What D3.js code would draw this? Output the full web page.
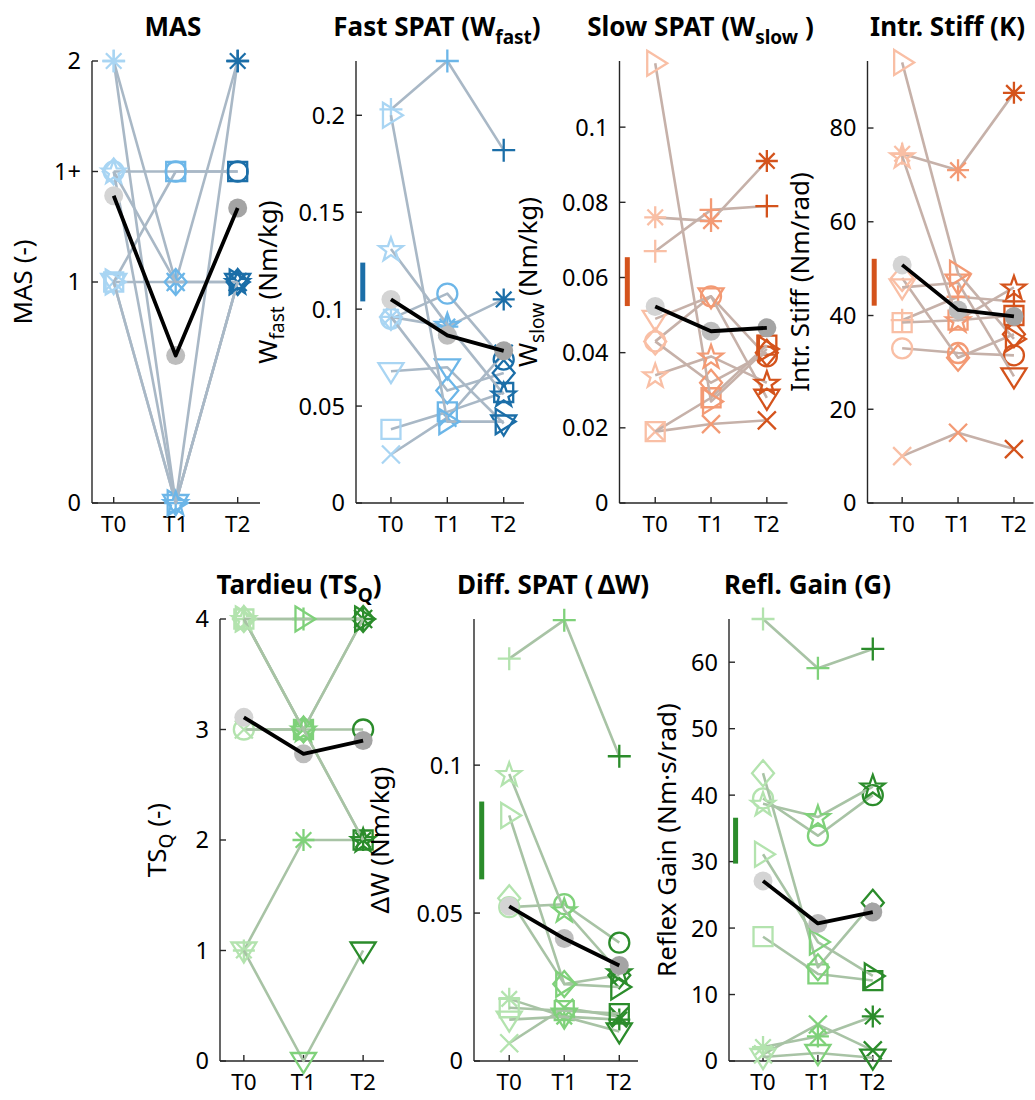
<!DOCTYPE html>
<html><head><meta charset="utf-8">
<script src="https://cdn.jsdelivr.net/npm/d3@7"></script>
<style>
body{margin:0;background:#fff}
svg{display:block}
text{font-family:"Noto Sans","Open Sans",sans-serif;fill:#000}
</style>
</head><body>
<svg id="chart" width="1035" height="1100"></svg>
<script>
// ---------------- DATA ----------------
const timeLabels = ["T0", "T1", "T2"];
const timePoints = [1, 2, 3];
// subject marker symbols (one per subject)
const subjectMarkers = ["o", "+", "*", "x", "s", "d", "v", ">", "p"];

const masTicks = [0, 1, 1.5, 2];
const masTickLabels = ["0", "1", "1+", "2"];
const masValues = [[1.5,1.5,1.5],[2,0,2],[2,1,2],[1,1,1],[1,1.5,1.5],[1.5,1,1],[1,0,1],[1,0,1],[1.5,0,1]];
const masMean = [1.39, 0.667, 1.335];

const wFastTicks = [0, 0.05, 0.1, 0.15, 0.2];
const wFastValues = [[0.095,0.108,0.074],[0.203,0.228,0.182],[0.096,0.091,0.105],[0.025,0.044,0.077],[0.038,0.047,0.057],[0.096,0.058,0.067],[0.068,0.070,0.041],[0.200,0.042,0.042],[0.131,0.092,0.056]];
const wFastMean = [0.105, 0.0865, 0.0785];
const wFastBar = [0.104, 0.124];

const wSlowTicks = [0, 0.02, 0.04, 0.06, 0.08, 0.1];
const wSlowValues = [[0.043,0.055,0.039],[0.067,0.078,0.079],[0.076,0.075,0.091],[0.019,0.021,0.022],[0.019,0.028,0.042],[0.043,0.032,0.040],[0.049,0.055,0.028],[0.117,0.027,0.041],[0.034,0.039,0.032]];
const wSlowMean = [0.0523, 0.0457, 0.0466];
const wSlowBar = [0.0524, 0.0654];

const stiffTicks = [0, 20, 40, 60, 80];
const stiffValues = [[33,32,31.5],[39,44,43],[74.5,71,87.5],[10,15,11.5],[38.5,39,40],[48,31,36],[46,47,27],[94,49,35],[74,39,46]];
const stiffMean = [50.8, 41.2, 39.8];
const stiffBar = [42.1, 52.1];

const tsqTicks = [0, 1, 2, 3, 4];
const tsqValues = [[3,3,3],[4,4,4],[1,2,2],[3,3,4],[4,3,2],[4,3,4],[1,0,1],[4,4,4],[4,3,2]];
const tsqMean = [3.11, 2.78, 2.90];

const dWTicks = [0, 0.05, 0.1];
const dWValues = [[0.052,0.053,0.040],[0.136,0.149,0.103],[0.021,0.015,0.014],[0.006,0.018,0.015],[0.018,0.017,0.016],[0.055,0.026,0.029],[0.014,0.015,0.010],[0.083,0.026,0.025],[0.097,0.051,0.030]];
const dWMean = [0.0523, 0.0414, 0.0323];
const dWBar = [0.0614, 0.0877];

const gainTicks = [0, 10, 20, 30, 40, 50, 60];
const gainValues = [[39.5,33.9,40.0],[66.5,59.1,62.0],[2.1,3.7,6.7],[1.0,5.5,1.6],[18.7,13.1,12.1],[43.3,14.1,23.8],[0.6,1.2,0.5],[31.1,17.9,12.8],[38.7,36.7,41.3]];
const gainMean = [27.1, 20.7, 22.4];
const gainBar = [29.7, 36.6];

// ---------------- STYLE ----------------
const palettes = {
  blue:   {t: ["#a9d5f3", "#6cb6e8", "#1b6ea8"], line: "#a9b8c6", bar: "#1b6ea8"},
  orange: {t: ["#f9bfa5", "#f39a74", "#d4531c"], line: "#c6b1a9", bar: "#d4531c"},
  green:  {t: ["#b3e3ae", "#7fd17a", "#2b8c2b"], line: "#a8c3a5", bar: "#2b8c2b"}
};
const meanColors = ["#d4d4d4", "#bdbdbd", "#a4a4a4"];

const svg = d3.select("#chart");
const TOP_Y = 61, H = 442;
const BOT_Y = 619;
const TICK_FS = 23.5, TITLE_FS = 26, TITLE_SUB = 19, LABEL_FS = 26, LABEL_SUB = 19;

const panels = [
  {title:[{t:"MAS"}], ylabel:[{t:"MAS (-)"}], left:92, top:TOP_Y, w:168, domain:[0,2],
   ticks:masTicks, tickLabels:masTickLabels, values:masValues, mean:masMean, bar:null, pal:"blue", labelX:26, xlim:[0.65,3.36]},
  {title:[{t:"Fast SPAT (W"},{t:"fast",sub:true},{t:")"}], ylabel:[{t:"W"},{t:"fast",sub:true},{t:" (Nm/kg)"}], left:356, top:TOP_Y, w:168, domain:[0,0.228],
   ticks:wFastTicks, values:wFastValues, mean:wFastMean, bar:wFastBar, pal:"blue", labelX:271, xlim:[0.38,3.36]},
  {title:[{t:"Slow SPAT (W"},{t:"slow",sub:true},{t:" )"}], ylabel:[{t:"W"},{t:"slow",sub:true},{t:" (Nm/kg)"}], left:619.5, top:TOP_Y, w:168, domain:[0,0.1176],
   ticks:wSlowTicks, values:wSlowValues, mean:wSlowMean, bar:wSlowBar, pal:"orange", labelX:531, xlim:[0.36,3.37]},
  {title:[{t:"Intr. Stiff (K)"}], ylabel:[{t:"Intr. Stiff (Nm/rad)"}], left:867.5, top:TOP_Y, w:166, domain:[0,94.3],
   ticks:stiffTicks, values:stiffValues, mean:stiffMean, bar:stiffBar, pal:"orange", labelX:803, xlim:[0.38,3.35]},
  {title:[{t:"Tardieu (TS"},{t:"Q",sub:true},{t:")"}], ylabel:[{t:"TS"},{t:"Q",sub:true},{t:" (-)"}], left:220, top:BOT_Y, w:164, domain:[0,4],
   ticks:tsqTicks, values:tsqValues, mean:tsqMean, bar:null, pal:"green", labelX:160, xlim:[0.6,3.35]},
  {title:[{t:"Diff. SPAT (\u2009\u0394W)"}], ylabel:[{t:"\u0394W (Nm/kg)"}], left:474, top:BOT_Y, w:164, domain:[0,0.1494],
   ticks:dWTicks, values:dWValues, mean:dWMean, bar:dWBar, pal:"green", labelX:383, xlim:[0.36,3.34]},
  {title:[{t:"Refl. Gain (G)"}], ylabel:[{t:"Reflex Gain (Nm\u00b7s/rad)"}], left:729, top:BOT_Y, w:163, domain:[0,66.5],
   ticks:gainTicks, values:gainValues, mean:gainMean, bar:gainBar, pal:"green", labelX:670, xlim:[0.38,3.35]}
];

function richText(sel, parts, size, subSize) {
  parts.forEach((p, i) => {
    const prevSub = i > 0 && parts[i-1].sub;
    const ts = sel.append("tspan").text(p.t).attr("font-size", p.sub ? subSize : size);
    if (p.sub) ts.attr("dy", size * 0.3);
    else if (prevSub) ts.attr("dy", -size * 0.3);
  });
}

function markerPath(type) {
  const p = d3.path();
  switch (type) {
    case "o": p.moveTo(10,0); p.arc(0,0,10,0,2*Math.PI); break;
    case "+": p.moveTo(-11.5,0); p.lineTo(11.5,0); p.moveTo(0,-11.5); p.lineTo(0,11.5); break;
    case "*": p.moveTo(-11,0); p.lineTo(11,0); p.moveTo(0,-11); p.lineTo(0,11);
              p.moveTo(-7.8,-7.8); p.lineTo(7.8,7.8); p.moveTo(-7.8,7.8); p.lineTo(7.8,-7.8); break;
    case "x": p.moveTo(-9,-9); p.lineTo(9,9); p.moveTo(-9,9); p.lineTo(9,-9); break;
    case "s": p.rect(-9.5,-9.5,19,19); break;
    case "d": p.moveTo(0,-13); p.lineTo(11,0); p.lineTo(0,13); p.lineTo(-11,0); p.closePath(); break;
    case "v": p.moveTo(-12.5,-8); p.lineTo(12.5,-8); p.lineTo(0,12); p.closePath(); break;
    case ">": p.moveTo(-8,-12.5); p.lineTo(12,0); p.lineTo(-8,12.5); p.closePath(); break;
    case "p": {
      for (let k = 0; k < 10; k++) {
        const r = k % 2 === 0 ? 12.5 : 5;
        const a = -Math.PI/2 + k * Math.PI/5;
        const x = r*Math.cos(a), y = r*Math.sin(a) + 1;
        if (k === 0) p.moveTo(x,y); else p.lineTo(x,y);
      }
      p.closePath(); break;
    }
  }
  return p.toString();
}

panels.forEach(P => {
  const g = svg.append("g");
  const pal = palettes[P.pal];
  const x = d3.scaleLinear().domain(P.xlim).range([P.left, P.left + P.w]);
  const y = d3.scaleLinear().domain(P.domain).range([P.top + H, P.top]);
  const bottom = P.top + H;

  // axes
  const axisColor = "#262626";
  g.append("line").attr("x1", P.left).attr("x2", P.left).attr("y1", P.top).attr("y2", bottom)
    .attr("stroke", axisColor).attr("stroke-width", 1.4);
  g.append("line").attr("x1", P.left).attr("x2", P.left + P.w).attr("y1", bottom).attr("y2", bottom)
    .attr("stroke", axisColor).attr("stroke-width", 1.4);
  P.ticks.forEach((t, i) => {
    g.append("line").attr("x1", P.left).attr("x2", P.left + 6).attr("y1", y(t)).attr("y2", y(t))
      .attr("stroke", axisColor).attr("stroke-width", 1.4);
    g.append("text").attr("x", P.left - 11).attr("y", y(t)).attr("dy", "0.36em")
      .attr("text-anchor", "end").attr("font-size", TICK_FS)
      .text(P.tickLabels ? P.tickLabels[i] : d3.format("~g")(t));
  });
  timePoints.forEach((tp, i) => {
    g.append("line").attr("x1", x(tp)).attr("x2", x(tp)).attr("y1", bottom).attr("y2", bottom - 6)
      .attr("stroke", axisColor).attr("stroke-width", 1.4);
    g.append("text").attr("x", x(tp)).attr("y", bottom + 29).attr("text-anchor", "middle")
      .attr("font-size", 22.5).text(timeLabels[i]);
  });

  // title
  const tt = g.append("text").attr("x", P.left + P.w/2 - 3).attr("y", P.top - 25)
    .attr("text-anchor", "middle").attr("font-weight", "bold");
  richText(tt, P.title, TITLE_FS, TITLE_SUB);

  // y label
  const cy = P.top + H/2;
  const yl = g.append("text").attr("transform", `translate(${P.labelX},${cy}) rotate(-90)`)
    .attr("text-anchor", "middle").attr("dy", "0.35em");
  richText(yl, P.ylabel, LABEL_FS, LABEL_SUB);

  // bar
  if (P.bar) {
    g.append("rect").attr("x", x(0.5) - 2.5).attr("width", 5)
      .attr("y", y(P.bar[1])).attr("height", y(P.bar[0]) - y(P.bar[1]))
      .attr("fill", pal.bar);
  }

  // subjects
  const line = d3.line().x((d, i) => x(timePoints[i])).y(d => y(d));
  P.values.forEach((vals, s) => {
    g.append("path").attr("d", line(vals)).attr("fill", "none")
      .attr("stroke", pal.line).attr("stroke-width", 2.6).attr("stroke-linejoin", "round");
    vals.forEach((v, i) => {
      g.append("path").attr("d", markerPath(subjectMarkers[s]))
        .attr("transform", `translate(${x(timePoints[i])},${y(v)})`)
        .attr("fill", "none").attr("stroke", pal.t[i]).attr("stroke-width", 2.3)
        .attr("stroke-linejoin", "miter");
    });
  });

  // mean
  P.mean.forEach((m, i) => {
    g.append("circle").attr("cx", x(timePoints[i])).attr("cy", y(m)).attr("r", 9.5)
      .attr("fill", meanColors[i]);
  });
  g.append("path").attr("d", line(P.mean)).attr("fill", "none")
    .attr("stroke", "#000").attr("stroke-width", 3.8).attr("stroke-linejoin", "round");
});
</script>
</body></html>
